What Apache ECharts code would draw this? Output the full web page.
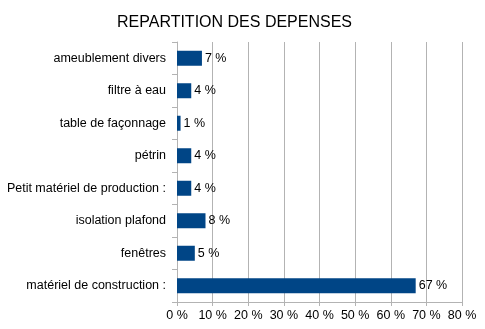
<!DOCTYPE html>
<html>
<head>
<meta charset="utf-8">
<script src="https://cdn.jsdelivr.net/npm/echarts@6/dist/echarts.min.js"></script>
<style>
  html, body { margin: 0; padding: 0; background: #fff; }
  #chart { width: 485px; height: 329px; }
</style>
</head>
<body>
<div id="chart"></div>
<script>
// Expense categories, listed top to bottom
const categories = [
  'ameublement divers',
  'filtre à eau',
  'table de façonnage',
  'pétrin',
  'Petit matériel de production :',
  'isolation plafond',
  'fenêtres',
  'matériel de construction :'
];
// Share of total spending, in percent
const shares = [7, 4, 1, 4, 4, 8, 5, 67];
// Percent axis
const axisMin = 0;
const axisMax = 80;
const axisStep = 10;

const font = '"Liberation Sans", Arial, sans-serif';
const chart = echarts.init(document.getElementById('chart'));
chart.setOption({
  animation: false,
  title: {
    text: 'REPARTITION DES DEPENSES',
    left: 112,
    top: 10,
    textStyle: { fontFamily: font, fontSize: 16, fontWeight: 'normal', color: '#000' }
  },
  grid: { left: 177, right: 23, top: 42, bottom: 27, containLabel: false },
  xAxis: {
    type: 'value',
    min: axisMin,
    max: axisMax,
    interval: axisStep,
    axisLine: { show: true, lineStyle: { color: '#b3b3b3', width: 1 } },
    axisTick: { show: true, length: 4, lineStyle: { color: '#b3b3b3' } },
    splitLine: { show: true, lineStyle: { color: '#b3b3b3', width: 1 } },
    axisLabel: {
      formatter: '{value} %',
      margin: 7,
      color: '#000',
      fontFamily: font,
      fontSize: 12.5
    }
  },
  yAxis: {
    type: 'category',
    data: categories,
    inverse: true,
    axisLine: { show: true, lineStyle: { color: '#b3b3b3', width: 1 } },
    axisTick: { show: true, length: 5, alignWithLabel: false, lineStyle: { color: '#b3b3b3' } },
    axisLabel: {
      margin: 11,
      color: '#000',
      fontFamily: font,
      fontSize: 12.5
    }
  },
  series: [{
    type: 'bar',
    data: shares,
    barWidth: 15,
    itemStyle: { color: '#004586' },
    label: {
      show: true,
      position: 'right',
      distance: 3,
      formatter: '{c} %',
      color: '#000',
      fontFamily: font,
      fontSize: 12.5
    }
  }]
});
</script>
</body>
</html>
